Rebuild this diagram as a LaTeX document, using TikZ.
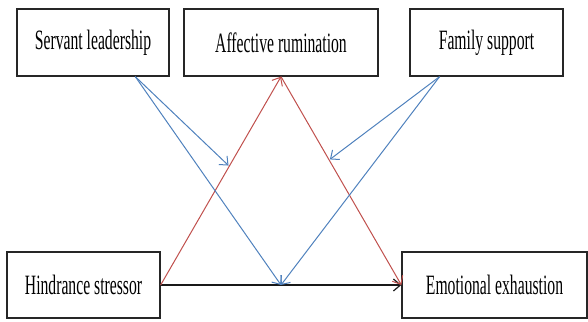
\documentclass[tikz,border=0pt]{standalone}
\usepackage{fontspec}
\setmainfont{Liberation Serif}[FakeStretch=0.56]
\usetikzlibrary{arrows.meta,calc}
\definecolor{lblue}{RGB}{79,129,189}
\definecolor{lred}{RGB}{192,80,77}
\tikzset{
  box/.style={draw=black!85, line width=1.3pt, fill=white, inner sep=0pt,
    font=\fontsize{28}{32}\selectfont},
  conn/.style={line width=1pt, -{Straight Barb[length=7pt,width=12pt,line width=1pt]}},
  blueconn/.style={conn, draw=lblue},
  redconn/.style={conn, draw=lred},
  blackconn/.style={line width=1.4pt, draw=black!90, -{Straight Barb[length=7pt,width=12pt,line width=1.2pt]}},
}
\begin{document}
\begin{tikzpicture}[x=1pt,y=-1pt]
\useasboundingbox (0,0) rectangle (588,321);
\node[box, minimum width=152pt, minimum height=67pt] (sl) at (93,42.5) {Servant leadership};
\node[box, minimum width=194pt, minimum height=67pt] (ar) at (281,42.5) {Affective rumination};
\node[box, minimum width=153pt, minimum height=67pt] (fs) at (486.5,42.5) {Family support};
\node[box, minimum width=153pt, minimum height=66pt] (hs) at (83.5,285) {Hindrance stressor};
\node[box, minimum width=185pt, minimum height=66pt] (ee) at (494.5,285) {Emotional exhaustion};

\coordinate (slo) at ($(sl.south west)!0.776!(sl.south east)$);
\coordinate (fso) at ($(fs.south west)!0.196!(fs.south east)$);
\coordinate (mid) at ($(hs.east)!0.5!(ee.west)$);
\coordinate (r1) at ($(hs.east)!0.57!(ar.south)$);
\coordinate (r2) at ($(ar.south)!0.40!(ee.west)$);

\draw[blackconn] (hs.east) -- (ee.west);
\draw[redconn] (hs.east) -- (ar.south);
\draw[redconn] (ar.south) -- (ee.west);
\draw[blueconn, shorten >=1pt] (slo) -- (r1);
\draw[blueconn] (slo) -- (mid);
\draw[blueconn, shorten >=1pt] (fso) -- (r2);
\draw[blueconn] (fso) -- (mid);
\end{tikzpicture}
\end{document}
